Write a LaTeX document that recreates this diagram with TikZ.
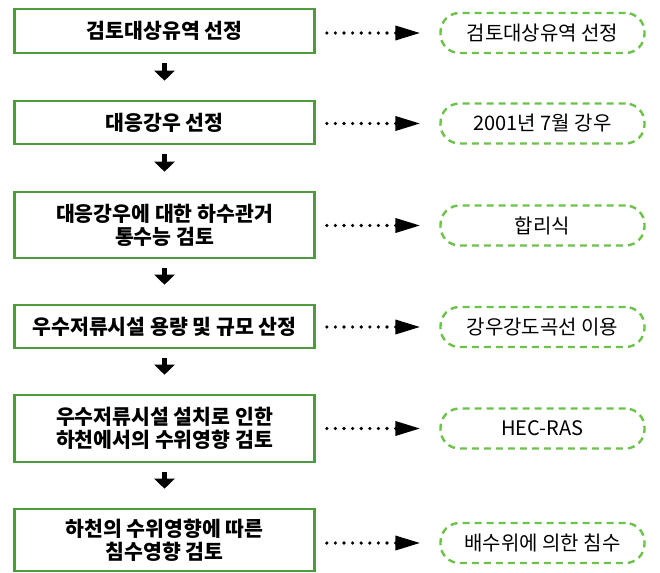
\documentclass[tikz,border=0pt]{standalone}
\usepackage{fontspec}
\usetikzlibrary{arrows.meta}
\newfontfamily\kor{Noto Sans CJK KR}
\definecolor{boxgreen}{HTML}{4E9A3C}
\definecolor{notegreen}{HTML}{6CC24A}
\tikzset{
  mainbox/.style={draw=boxgreen, line width=2.6pt, minimum width=300pt, align=center,
    font=\kor\bfseries\fontsize{20.5}{23}\selectfont, inner sep=0pt},
  notebox/.style={draw=notegreen, line width=2.4pt, dash pattern=on 7pt off 5pt,
    rounded corners=19pt, minimum width=204pt, minimum height=40pt,
    font=\kor\fontsize{20}{22}\selectfont, inner sep=0pt},
  flowarrow/.style={line width=5pt, -{Triangle[length=10pt,width=20pt]},
    shorten <=9pt, shorten >=19pt},
  dotarrow/.style={line width=3.6pt, line cap=round, dash pattern=on 0pt off 8.6pt,
    -{Triangle[length=25pt,width=14pt]}, shorten <=11pt, shorten >=19pt}
}
\begin{document}
\begin{tikzpicture}[x=1pt,y=-1pt]
    \def \lx{164.5}
    \def \rx{542.5}

    \useasboundingbox (0,0) rectangle (660,572);

    % left column
    \node[mainbox, minimum height=44pt] (step1) at (\lx,31) {검토대상유역 선정};
    \node[mainbox, minimum height=43pt] (step2) at (\lx,122.5) {대응강우 선정};
    \node[mainbox, minimum height=66pt] (step3) at (\lx,225) {대응강우에 대한 하수관거\\통수능 검토};
    \node[mainbox, minimum height=43pt] (step4) at (\lx,326.5) {우수저류시설 용량 및 규모 산정};
    \node[mainbox, minimum height=67pt] (step5) at (\lx,428.5) {우수저류시설 설치로 인한\\하천에서의 수위영향 검토};
    \node[mainbox, minimum height=62pt] (step6) at (\lx,540) {하천의 수위영향에 따른\\침수영향 검토};

    % right column
    \node[notebox] (note1) at (\rx,33) {검토대상유역 선정};
    \node[notebox] (note2) at (\rx,123.5) {2001년 7월 강우};
    \node[notebox] (note3) at (\rx,225.5) {합리식};
    \node[notebox] (note4) at (\rx,327) {강우강도곡선 이용};
    \node[notebox] (note5) at (\rx,428.5) {HEC-RAS};
    \node[notebox] (note6) at (\rx,543) {배수위에 의한 침수};

    \foreach \a/\b in {1/2,2/3,3/4,4/5,5/6}{ \draw[flowarrow] (step\a.south) -- (step\b.north); }%
    \foreach \i in {1,...,6}{ \draw[dotarrow] (step\i.east |- note\i.west) -- (note\i.west); }%
\end{tikzpicture}
\end{document}
